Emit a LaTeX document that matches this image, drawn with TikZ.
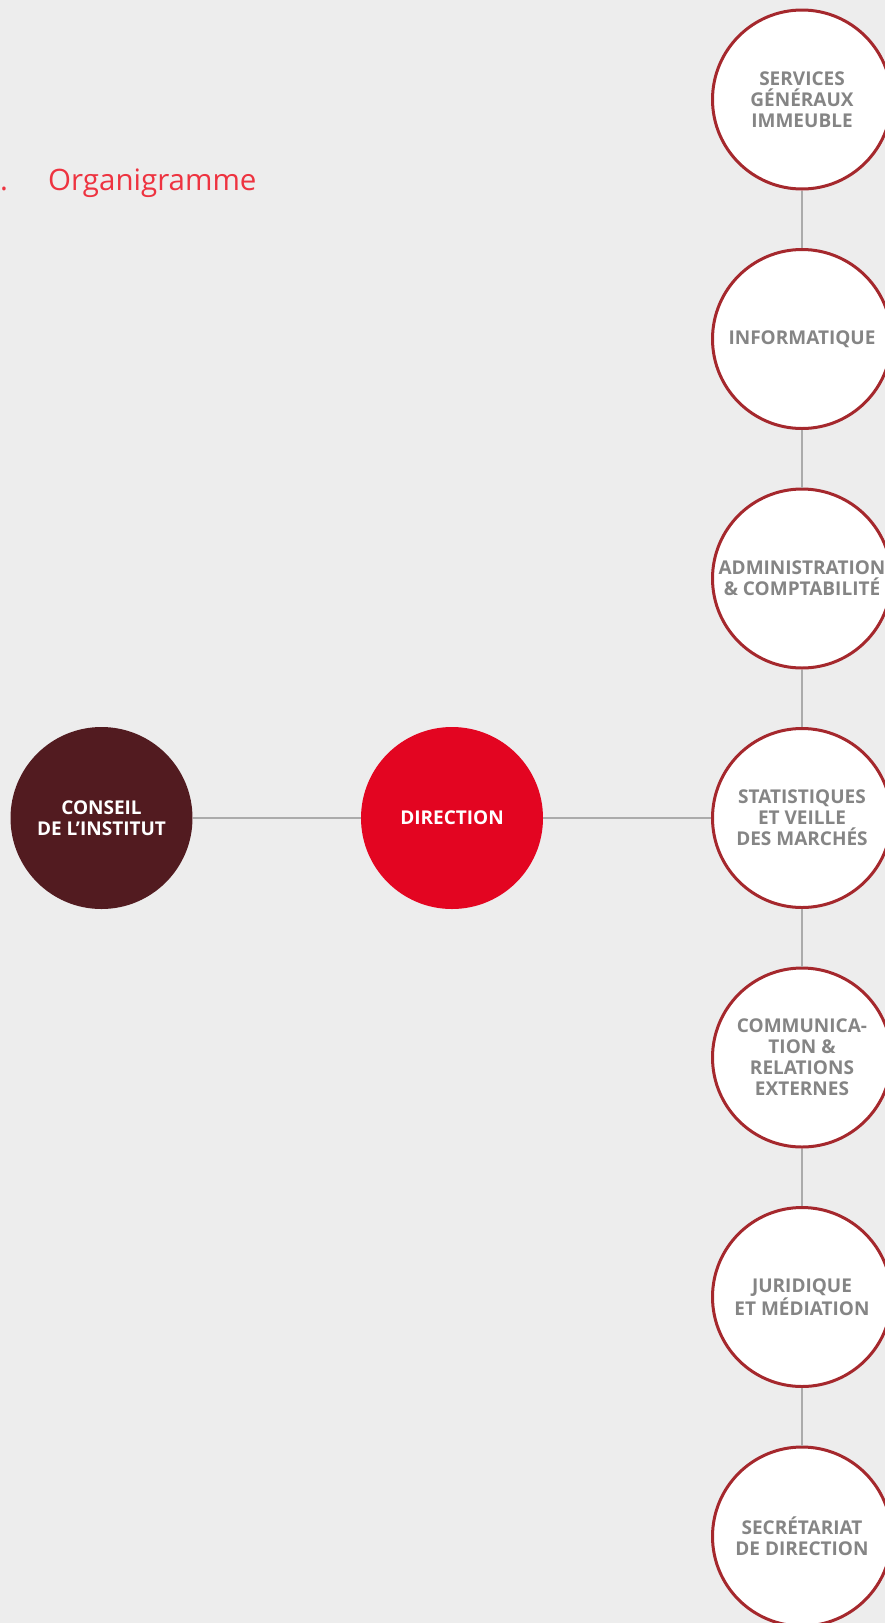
\documentclass[tikz,border=0pt]{standalone}
\usepackage{fontspec}
\setmainfont{Open Sans}
\definecolor{bg}{HTML}{EDEDED}
\definecolor{darkred}{HTML}{521B20}
\definecolor{mainred}{HTML}{E30521}
\definecolor{ringred}{HTML}{A5282D}
\definecolor{labelgray}{HTML}{858585}
\definecolor{linegray}{HTML}{ABABAB}
\definecolor{titlered}{HTML}{EE3340}
\tikzset{
  unitbox/.style={circle, draw=ringred, line width=3pt, fill=white, minimum size=179pt, inner sep=0pt,
    text=labelgray, align=center, font=\fontsize{19}{21}\selectfont\bfseries},
  headbox/.style={circle, minimum size=182pt, inner sep=0pt, text=white, align=center,
    font=\fontsize{19}{21}\selectfont\bfseries},
  hlink/.style={draw=linegray, line width=2pt},
  vlink/.style={draw=linegray, line width=1.3pt},
  titletext/.style={text=titlered, font=\fontsize{29.5}{36}\selectfont, anchor=base west, inner sep=0pt}
}
\begin{document}
\begin{tikzpicture}[x=1pt,y=-1pt]
\fill[bg] (0,0) rectangle (885,1623);
\useasboundingbox (0,0) rectangle (885,1623);
\clip (0,0) rectangle (885,1623);
\node[titletext] (dot) at (0,190) {.};
\node[titletext] (title) at (48,190) {Organigramme};

\node[headbox, fill=darkred] (conseil) at (101.5,818) {CONSEIL\\DE L’INSTITUT};
\node[headbox, fill=mainred] (direction) at (452,818) {DIRECTION};

\node[unitbox] (u1) at (802,99.5) {SERVICES\\GÉNÉRAUX\\IMMEUBLE};
\node[unitbox] (u2) at (802,339) {INFORMATIQUE};
\node[unitbox] (u3) at (802,578.5) {ADMINISTRATION\\\& COMPTABILITÉ};
\node[unitbox] (u4) at (802,818) {STATISTIQUES\\ET VEILLE\\DES MARCHÉS};
\node[unitbox] (u5) at (802,1057.5) {COMMUNICA-\\TION \&\\RELATIONS\\EXTERNES};
\node[unitbox] (u6) at (802,1297) {JURIDIQUE\\ET MÉDIATION};
\node[unitbox] (u7) at (802,1536.5) {SECRÉTARIAT\\DE DIRECTION};

\draw[hlink] (conseil) -- (direction);
\draw[hlink] (direction) -- (u4);
\draw[vlink] (u1) -- (u2);
\draw[vlink] (u2) -- (u3);
\draw[vlink] (u3) -- (u4);
\draw[vlink] (u4) -- (u5);
\draw[vlink] (u5) -- (u6);
\draw[vlink] (u6) -- (u7);
\end{tikzpicture}
\end{document}
